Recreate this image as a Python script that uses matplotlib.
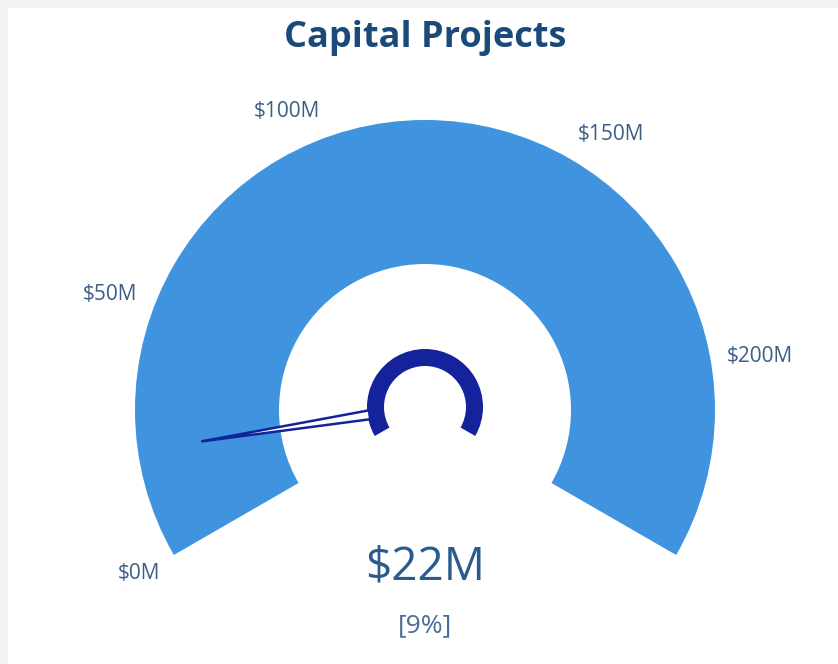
import numpy as np
import matplotlib
matplotlib.use("Agg")
import matplotlib.pyplot as plt
from matplotlib.patches import Wedge, Polygon, Rectangle

# data
title = "Capital Projects"
value = 22          # $M
max_value = 240     # $M, gauge maximum (estimated)
tick_values = [0, 50, 100, 150, 200]
tick_labels = ["$0M", "$50M", "$100M", "$150M", "$200M"]

# gauge geometry (pixel-like units, y up)
W, H = 838, 664
cx, cy = 425, H - 410
r_out, r_in = 290, 146
hub_out, hub_in = 58, 41
start_ang, sweep = 210, 240

arc_col = "#4093df"
hub_col = "#14239c"
txt_col = "#3b5d86"

def ang(v):
    return start_ang - sweep * v / max_value

fig = plt.figure(figsize=(W / 100, H / 100), dpi=100, facecolor="#f3f3f3")
ax = fig.add_axes([0, 0, 1, 1])
ax.set_xlim(0, W)
ax.set_ylim(0, H)
ax.set_aspect("equal")
ax.axis("off")

# white card
ax.add_patch(Rectangle((8, 0), W, H - 8, facecolor="white", edgecolor="none"))

# main band
end_ang = ang(max_value)
ax.add_patch(Wedge((cx, cy), r_out, end_ang, start_ang, width=r_out - r_in,
                   facecolor=arc_col, edgecolor="none"))

# hub ring
ax.add_patch(Wedge((cx, cy + 3), hub_out, end_ang, start_ang, width=hub_out - hub_in,
                   facecolor=hub_col, edgecolor="none"))

# needle (outlined thin triangle)
a = np.radians(ang(value))
ux, uy = np.cos(a), np.sin(a)
px, py = -uy, ux
base = hub_out - 2
tip_r = 226
hw = 4.5
bx, by = cx + base * ux, cy + 3 + base * uy
needle = [(bx + hw * px, by + hw * py),
          (cx + tip_r * ux, cy + tip_r * uy),
          (bx - hw * px, by - hw * py)]
ax.add_patch(Polygon(needle, closed=True, facecolor="white", edgecolor=hub_col,
                     linewidth=1.8, joinstyle="miter"))

# tick labels around the gauge
r_lab = 306
for v, lab in zip(tick_values, tick_labels):
    t = np.radians(ang(v))
    c, s = np.cos(t), np.sin(t)
    ha = "left" if c > 0.15 else ("right" if c < -0.15 else "center")
    va = "bottom" if s > 0.2 else ("top" if s < -0.2 else "center")
    ax.text(cx + r_lab * c, cy + r_lab * s, lab, ha=ha, va=va,
            fontsize=15, color=txt_col, family="Open Sans")

# title and value
ax.text(cx, H - 38, title, ha="center", va="center", fontsize=26,
        fontweight="bold", color="#1b4a7a", family="Open Sans")
ax.text(cx, H - 567, f"${value}M", ha="center", va="center", fontsize=33,
        color="#2b5b8e", family="Open Sans")
ax.text(cx, H - 626, f"[{round(100 * value / max_value)}%]", ha="center",
        va="center", fontsize=19, color="#4a6d96", family="Open Sans")

fig.savefig("out.png", dpi=100, facecolor=fig.get_facecolor())
